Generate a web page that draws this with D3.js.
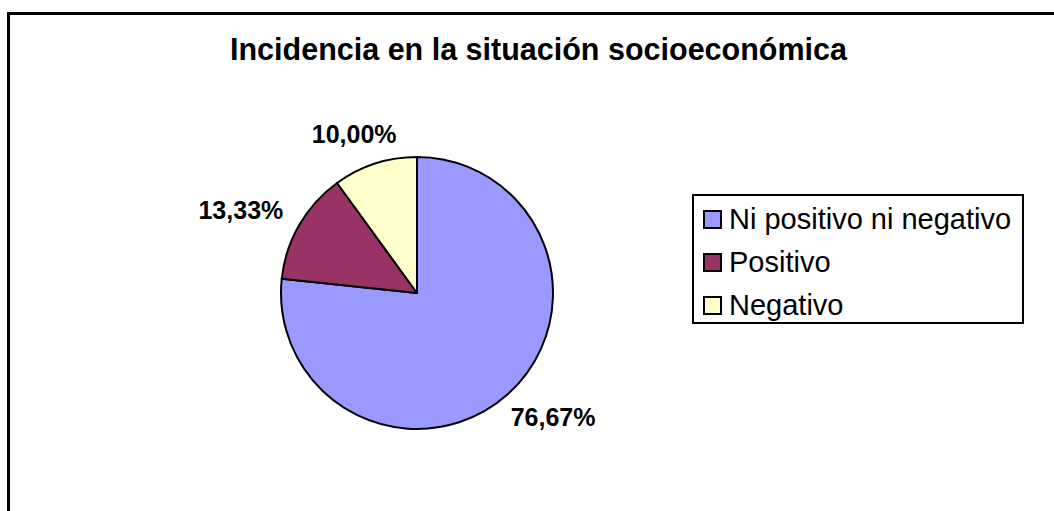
<!DOCTYPE html>
<html>
<head>
<meta charset="utf-8">
<script src="https://cdn.jsdelivr.net/npm/d3@7/dist/d3.min.js"></script>
<style>
  html, body { margin: 0; padding: 0; background: #ffffff; }
  svg { display: block; }
  text { font-family: "Liberation Sans", Arial, Helvetica, sans-serif; fill: #000; }
</style>
</head>
<body>
<svg id="chart" width="1054" height="511"></svg>
<script>
// Chart data
const title = "Incidencia en la situación socioeconómica";
const categories = ["Ni positivo ni negativo", "Positivo", "Negativo"];
const values = [76.67, 13.33, 10.00];
const colors = ["#9999FF", "#993366", "#FFFFCC"];

const svg = d3.select("#chart");
const W = 1054, H = 511;

// Chart area frame (continues past the right and bottom edges)
svg.append("rect")
  .attr("x", 8.5).attr("y", 13.5)
  .attr("width", W + 20).attr("height", H + 20)
  .attr("fill", "#fff")
  .attr("stroke", "#000")
  .attr("stroke-width", 3);

// Title
svg.append("text")
  .attr("x", 538.5).attr("y", 60)
  .attr("text-anchor", "middle")
  .style("font-size", "30.5px")
  .style("font-weight", "bold")
  .text(title);

// Pie
const cx = 417, cy = 293, R = 136;
const pie = d3.pie().sort(null).value(d => d)
  .startAngle(0).endAngle(2 * Math.PI);
const arcs = pie(values);
const arc = d3.arc().innerRadius(0).outerRadius(R);

const g = svg.append("g").attr("transform", `translate(${cx},${cy})`);
g.selectAll("path.slice")
  .data(arcs)
  .join("path")
  .attr("class", "slice")
  .attr("d", arc)
  .attr("fill", (d, i) => colors[i])
  .attr("stroke", "#000")
  .attr("stroke-width", 2)
  .attr("stroke-linejoin", "round");

// Percentage labels placed just outside the pie, nudged away by half their box
const fmt = v => v.toFixed(2).replace(".", ",") + "%";
const labelR = R + 25;
const labels = g.selectAll("text.lbl")
  .data(arcs)
  .join("text")
  .attr("class", "lbl")
  .style("font-size", "25px")
  .style("font-weight", "bold")
  .attr("text-anchor", "middle")
  .text(d => fmt(d.data));

labels.each(function(d) {
  const bb = this.getBBox();
  const a = (d.startAngle + d.endAngle) / 2;
  const sx = Math.sin(a), sy = -Math.cos(a);
  const px = sx * labelR + sx * bb.width / 2;
  const py = sy * labelR + sy * 6;
  d3.select(this).attr("x", px).attr("y", py + 9);
});

// Legend
const lg = svg.append("g");
lg.append("rect")
  .attr("x", 693).attr("y", 195)
  .attr("width", 330).attr("height", 128)
  .attr("fill", "#fff")
  .attr("stroke", "#000")
  .attr("stroke-width", 2);

const rowY = d3.scaleBand().domain(categories).range([185.5, 314.5]);
const rows = lg.selectAll("g.row")
  .data(categories)
  .join("g")
  .attr("class", "row");

rows.append("rect")
  .attr("x", 704)
  .attr("y", d => rowY(d) + rowY.bandwidth() - 17.5)
  .attr("width", 17).attr("height", 17)
  .attr("fill", (d, i) => colors[i])
  .attr("stroke", "#000")
  .attr("stroke-width", 2);

rows.append("text")
  .attr("x", 729)
  .attr("y", d => rowY(d) + rowY.bandwidth())
  .style("font-size", "29px")
  .text(d => d);
</script>
</body>
</html>
